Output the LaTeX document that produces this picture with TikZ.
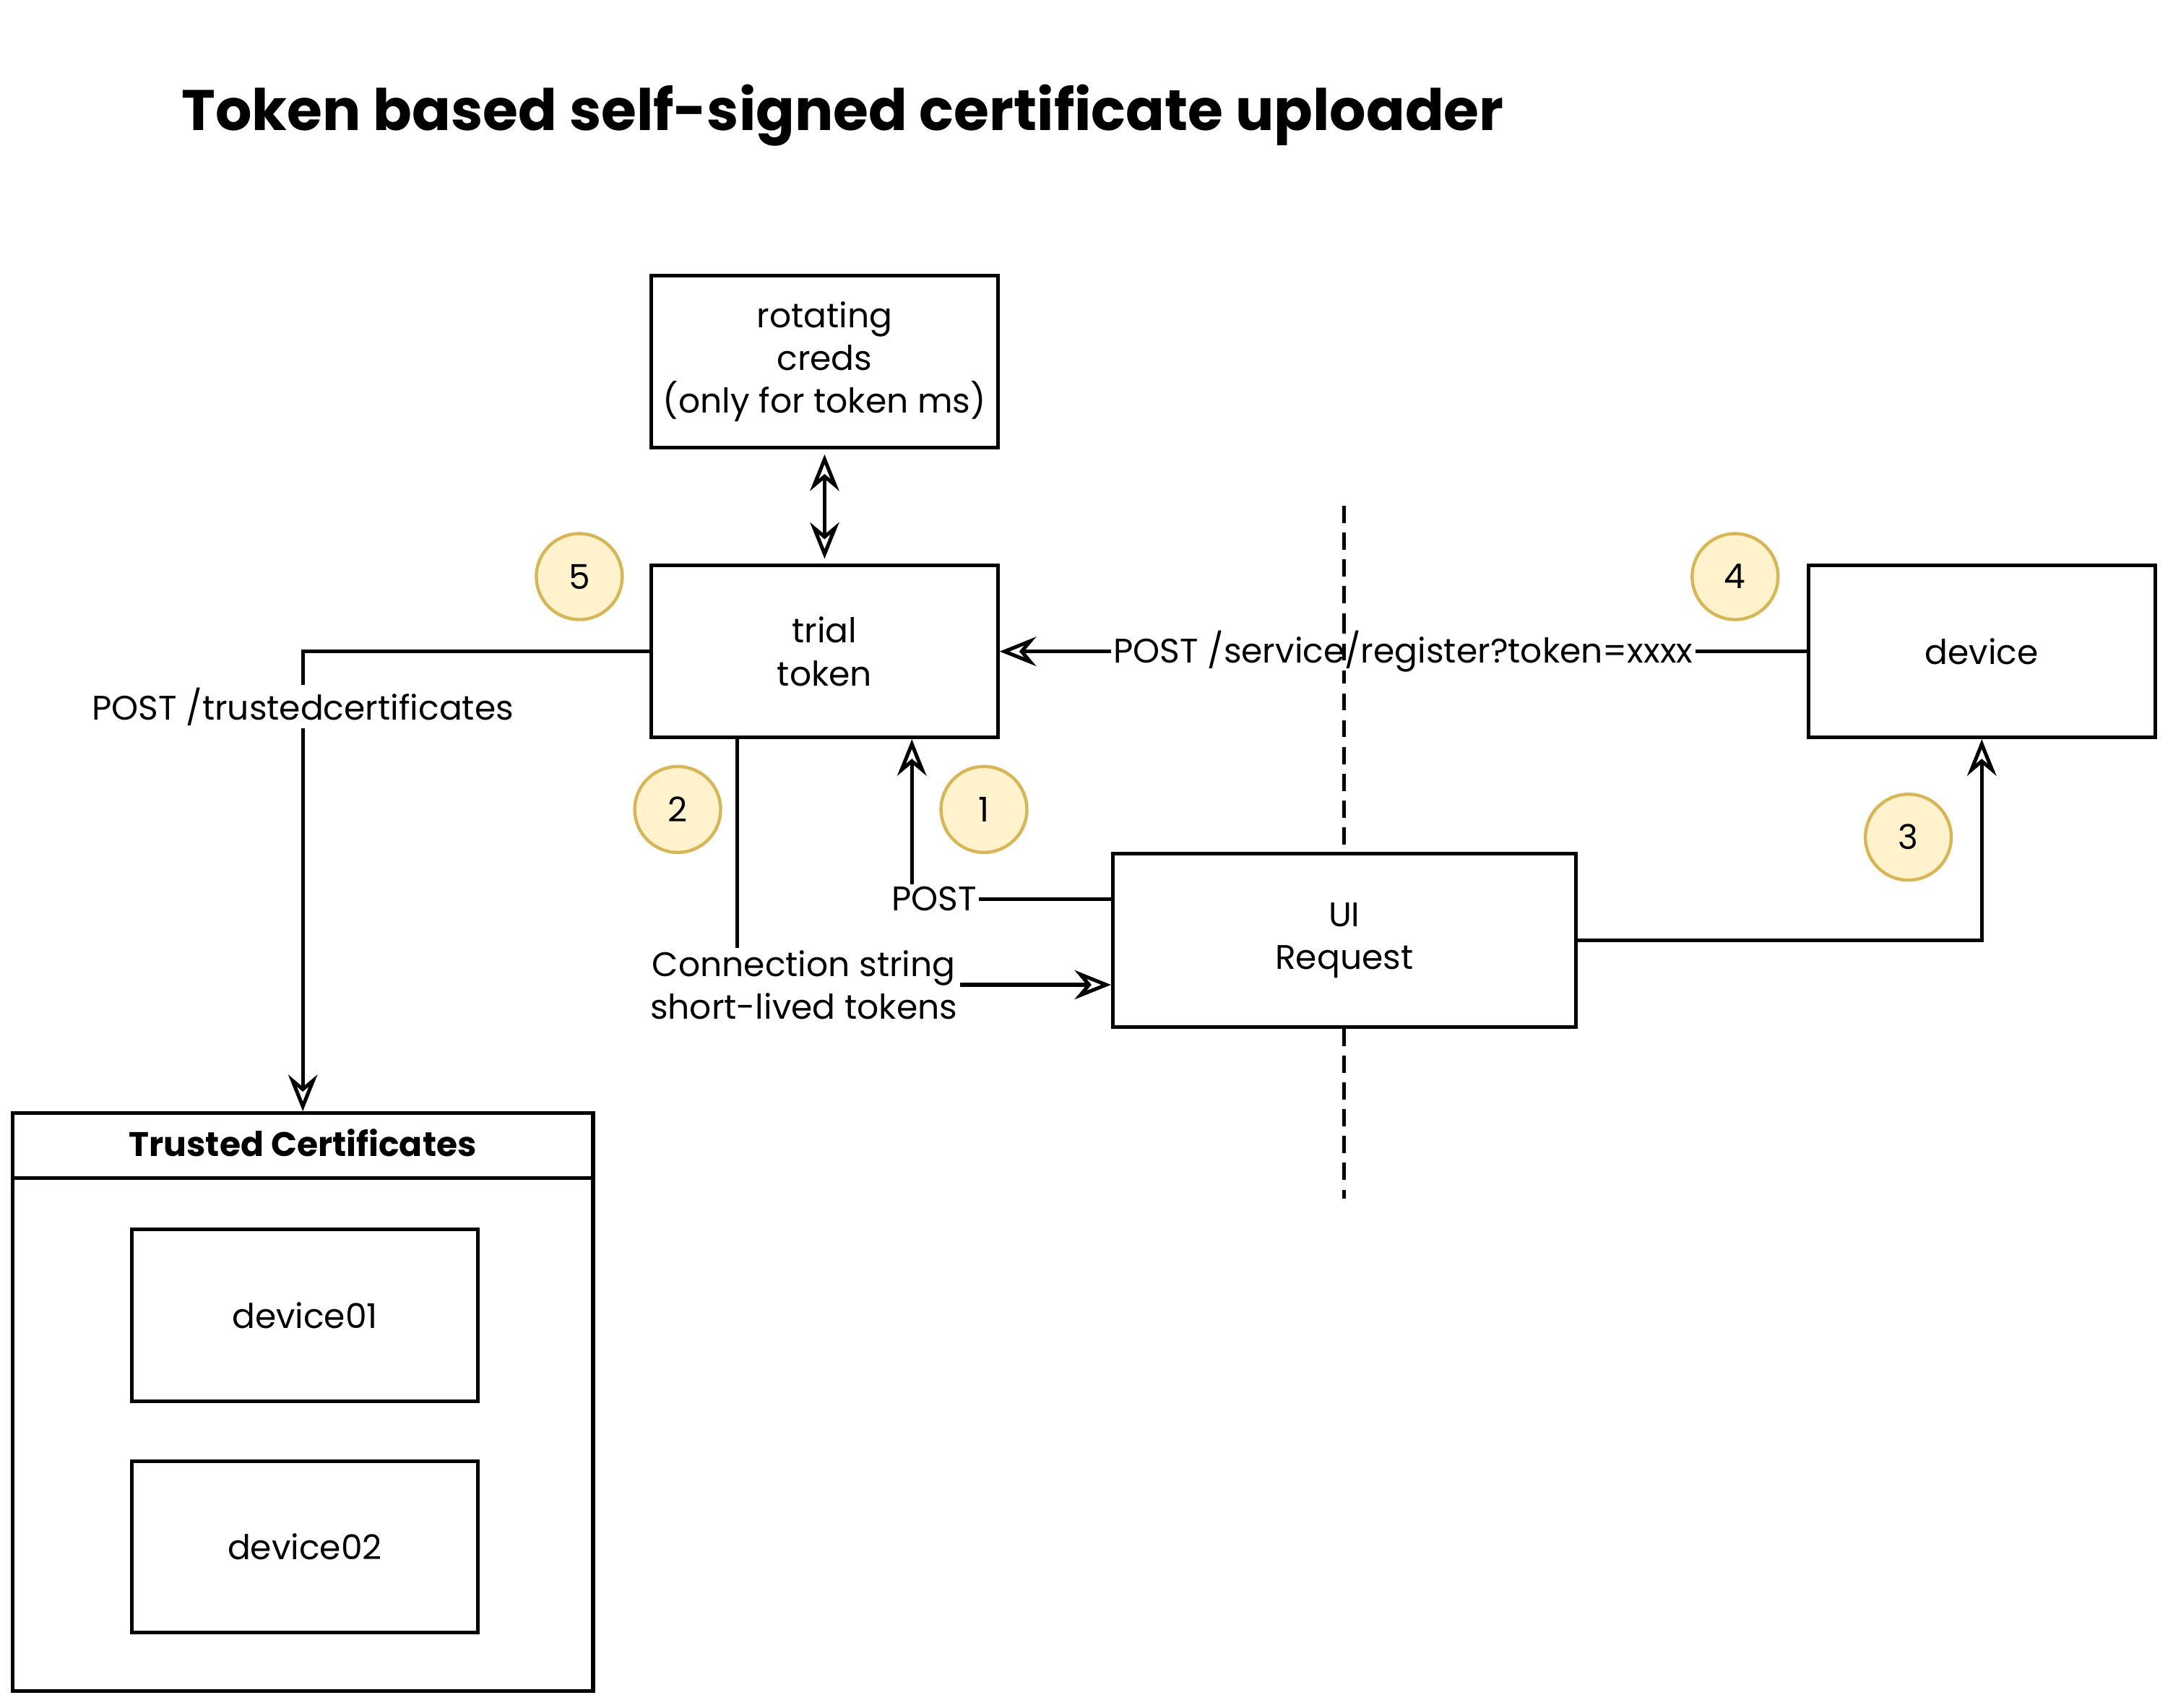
\documentclass[tikz,border=0pt]{standalone}
\usepackage{fontspec}
\setmainfont{Poppins}
\usepackage{xcolor}
\usetikzlibrary{arrows.meta,calc}

\definecolor{notefill}{HTML}{FFF2CC}
\definecolor{noteline}{HTML}{D6B656}

\tikzset{
  box/.style={draw, line width=1.5pt, fill=white, minimum width=5cm, minimum height=2.48cm, align=center},
  badge/.style={circle, draw=noteline, fill=notefill, line width=1.3pt, minimum size=1.24cm, inner sep=0pt},
  tip/.tip={Stealth[open, length=15pt, width=12pt, inset=5pt]},
  flow/.style={line width=1.5pt, -tip},
  tag/.style={fill=white, inner sep=1pt, align=center},
  fence/.style={line width=1.5pt, dash pattern=on 7pt off 4pt}
}

\begin{document}
\begin{tikzpicture}[x=0.02cm, y=-0.02cm, font=\fontsize{14}{17.6}\selectfont]
  \useasboundingbox[fill=white] (0,0) rectangle (1568,1232);
  % Title
  \node[anchor=west, font=\fontsize{23.5}{28}\selectfont\bfseries] (title) at (125,83) {Token based self-signed certificate uploader};
  % Boxes
  \node[box] (creds) at (595,261) {rotating\\creds\\(only for token ms)};
  \node[box] (token) at (595,470) {trial\\token};
  \node[box] (device) at (1430,470) {device};
  % Trust boundary
  \coordinate (fencetop) at (970,365);
  \coordinate (fencebot) at (970,865);
  \node[box, minimum width=6.68cm, minimum height=2.5cm] (ui) at (970,678.5) {UI\\Request};
  \draw[fence] (fencetop) -- (ui.north);
  \draw[fence] (ui.south) -- (fencebot);
  % Trusted certificates store
  \node[box, minimum width=8.38cm, minimum height=8.34cm] (trusted) at (218.5,1011.5) {};
  \draw[line width=1.5pt] ([yshift=-0.96cm]trusted.north west) -- ([yshift=-0.96cm]trusted.north east);
  \node[font=\fontsize{14}{17.6}\selectfont\bfseries] (trustedhead) at ([yshift=-0.46cm]trusted.north) {Trusted Certificates};
  \node[box] (dev01) at (220,949) {device01};
  \node[box] (dev02) at (220,1116) {device02};
  % Flows
  \draw[flow, tip-tip, shorten <=2pt, shorten >=2pt] (creds.south) -- (token.north);
  \draw[flow] ([yshift=0.6cm]ui.west) -| node[tag, pos=0.5, xshift=0.32cm] {POST} ([xshift=1.26cm]token.south);
  \draw[flow] ([xshift=-1.26cm]token.south) |- node[tag, pos=0.5, xshift=0.96cm] {Connection string\\short-lived tokens} ([yshift=-0.64cm]ui.west);
  \draw[flow] (ui.east) -| (device.south);
  \draw[flow] (device.west) -- node[tag] {POST /service/register?token=xxxx} (token.east);
  \draw[flow] (token.west) -| node[tag, pos=0.56] {POST /trustedcertificates} (trusted.north);
  \draw[fence] (970,445) -- (970,490);
  % Step numbers
  \node[badge] (s1) at (710,584) {1};
  \node[badge] (s2) at (489,584) {2};
  \node[badge] (s3) at (1377,604) {3};
  \node[badge] (s4) at (1252,416) {4};
  \node[badge] (s5) at (418,416) {5};
\end{tikzpicture}
\end{document}
